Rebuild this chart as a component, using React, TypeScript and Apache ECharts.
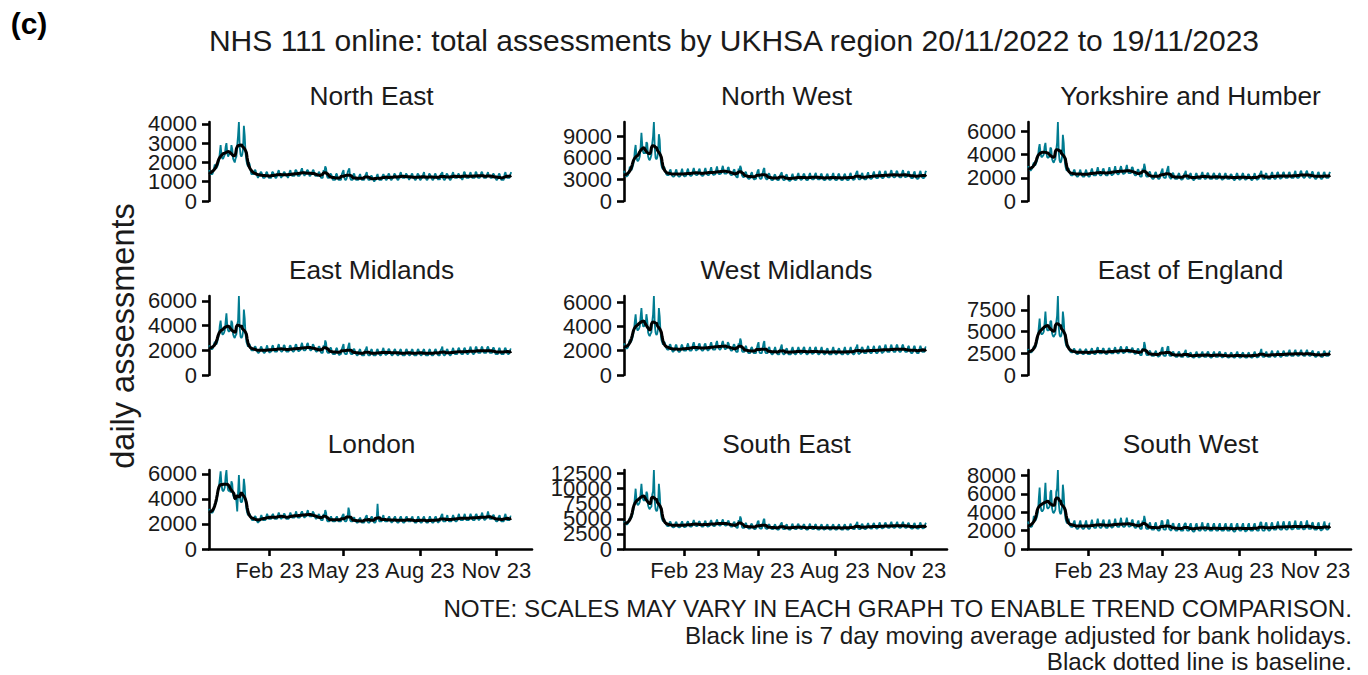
import React, { useEffect, useRef } from "react";
import * as echarts from "echarts";

// Daily NHS 111 online assessments, in hundreds, one value per day from 20/11/2022 (Sunday) to 19/11/2023.
const NORTH_EAST = [
16,15,14,14,14,15,17, 19,17,17,18,19,21,25, 29,24,22,22,23,24,28, 30,25,23,24,25,24,29,
27,22,21,20,22,23,29, 34,41,28,24,23,24,27, 39,34,25,21,19,18,20, 19,16,14,14,14,14,16,
16,14,13,12,13,13,15, 15,14,12,12,12,13,15, 15,13,12,12,12,12,15, 15,14,13,12,12,13,15,
16,14,13,12,13,13,15, 15,14,13,13,12,13,15, 16,14,13,13,13,13,16, 16,15,13,13,13,14,16,
17,15,14,13,14,14,16, 16,15,13,13,14,14,16, 16,14,13,13,13,13,15, 15,13,12,12,12,16,15,
18,17,13,12,12,12,14, 14,13,11,11,11,11,14, 14,12,11,11,11,11,14, 15,16,12,11,11,12,15,
16,17,12,11,11,11,14, 14,12,11,11,11,11,13, 14,12,11,11,11,11,13, 14,15,12,11,11,11,13,
13,12,11,10,11,11,13, 14,12,11,11,11,11,13, 14,13,12,11,11,12,14, 14,12,11,11,12,12,14,
14,13,12,11,11,12,14, 15,13,12,12,12,12,14, 14,13,12,11,12,12,14, 14,12,12,11,11,12,14,
14,13,11,11,12,12,14, 15,12,12,11,11,12,14, 14,13,12,11,11,12,14, 14,12,12,11,12,11,14,
14,15,12,11,11,12,14, 14,13,12,11,11,12,14, 15,13,12,12,12,12,14, 14,13,12,12,11,12,15,
15,13,12,12,12,12,14, 15,13,12,12,12,12,15, 15,13,12,12,12,13,15, 15,13,12,12,12,12,14,
15,13,13,12,12,12,14, 14,13,12,11,11,12,14, 14,12,11,11,11,11,14, 15,13,12,12,12,12,14,
15];

const NORTH_WEST = [
42,38,35,34,35,36,41, 48,44,43,46,50,56,70, 78,62,56,56,58,62,75, 95,78,68,66,68,66,82,
80,62,58,57,60,64,80, 90,110,75,60,58,60,68, 93,85,60,50,46,44,48, 46,40,37,36,36,36,42,
44,39,35,34,34,35,41, 44,39,35,34,34,35,41, 45,39,35,34,35,35,42, 45,40,36,35,35,36,42,
46,41,37,36,36,37,43, 45,40,36,35,35,36,42, 46,41,37,36,36,37,43, 47,41,37,36,37,37,44,
48,42,38,37,38,38,45, 49,43,38,38,38,39,46, 47,41,37,36,36,37,43, 44,38,34,33,33,45,42,
49,46,36,34,33,34,40, 40,35,32,31,31,32,38, 40,35,31,30,31,31,38, 42,44,33,31,31,32,39,
44,46,33,31,30,31,38, 38,34,30,29,29,30,36, 37,33,30,29,29,30,36, 38,40,31,29,29,30,36,
37,33,29,28,28,29,35, 38,33,30,29,29,30,36, 39,34,31,29,30,31,37, 38,34,30,29,29,30,36,
39,34,31,30,30,31,37, 39,34,31,30,30,30,37, 38,33,30,29,29,30,36, 38,34,30,29,30,30,36,
39,34,30,29,29,30,37, 38,33,30,29,29,30,36, 38,34,30,29,29,30,37, 39,34,31,29,30,30,37,
40,42,32,30,30,31,37, 39,34,31,30,30,31,37, 40,35,32,31,31,32,38, 41,36,33,32,32,32,39,
42,37,33,32,32,33,40, 42,37,34,33,33,33,40, 43,38,34,33,33,34,41, 42,37,34,33,33,33,40,
43,38,34,33,34,34,41, 41,36,33,32,32,32,39, 41,36,32,31,31,32,39, 42,37,33,32,32,33,40,
42];

const YORKSHIRE_HUMBER = [
30,28,27,26,27,28,31, 33,31,31,33,35,38,45, 49,42,38,38,39,40,47, 50,42,38,37,38,38,46,
45,36,34,33,35,36,44, 50,68,42,35,33,34,38, 57,50,36,30,27,26,28, 28,25,23,22,22,22,26,
27,24,22,21,21,22,25, 27,24,22,21,21,21,25, 27,24,22,21,21,22,26, 28,25,22,22,22,22,26,
29,26,23,22,22,23,27, 28,25,23,22,22,22,26, 29,26,23,22,23,23,27, 30,26,24,23,23,24,28,
30,27,24,23,24,24,28, 31,27,24,24,24,24,29, 29,26,23,22,22,23,27, 27,24,21,21,21,28,26,
32,29,22,21,21,21,25, 25,22,20,19,19,20,24, 25,22,20,19,19,20,24, 26,28,21,20,20,20,25,
28,30,21,20,19,20,24, 24,21,19,19,19,19,23, 24,21,19,18,19,19,23, 24,26,20,19,19,19,23,
24,21,19,18,18,19,23, 24,21,19,19,19,19,23, 25,22,20,19,19,20,24, 24,21,19,19,19,19,23,
24,22,19,19,19,20,23, 24,21,19,18,19,19,23, 24,21,19,19,19,19,23, 23,21,19,18,18,19,23,
24,21,19,18,19,19,23, 24,21,19,18,19,19,23, 23,21,19,18,18,19,22, 24,21,19,18,19,19,23,
24,26,20,19,19,19,23, 24,21,19,19,19,19,23, 25,22,20,19,19,20,24, 25,22,20,19,20,20,24,
25,22,20,20,20,20,24, 25,22,20,20,20,20,24, 26,22,20,20,20,21,25, 26,23,21,20,20,21,25,
26,23,21,20,20,21,25, 25,22,20,19,19,20,24, 25,22,20,19,19,20,24, 25,22,20,20,20,20,24,
25];

const EAST_MIDLANDS = [
24,22,21,21,21,22,25, 27,25,25,27,30,33,40, 44,37,33,33,34,36,43, 50,40,36,35,36,36,44,
42,33,31,30,32,33,41, 44,64,38,31,30,31,35, 53,46,33,27,25,23,25, 25,22,20,20,20,20,23,
23,21,19,18,18,19,22, 23,21,19,18,18,19,22, 24,21,19,18,19,19,23, 24,21,19,19,19,19,23,
25,22,20,19,19,20,24, 24,21,19,19,19,19,23, 24,22,20,19,19,20,24, 25,22,20,19,20,20,24,
26,23,20,20,20,21,25, 26,23,21,20,20,21,25, 24,22,20,19,19,20,23, 23,21,18,18,18,24,22,
28,26,19,18,18,18,22, 22,19,17,17,17,17,21, 22,19,17,16,17,17,21, 23,25,18,17,17,17,21,
24,26,18,17,17,17,21, 21,19,17,16,16,17,20, 21,18,16,16,16,16,20, 21,23,17,16,16,16,20,
21,18,16,16,16,16,20, 21,19,17,16,16,17,20, 22,19,17,16,17,17,21, 21,19,17,16,16,17,20,
21,19,17,16,16,17,20, 21,18,16,16,16,16,20, 21,19,17,16,16,17,20, 21,18,16,16,16,16,20,
21,19,17,16,16,17,20, 21,18,16,16,16,16,20, 21,18,16,16,16,17,20, 21,19,17,16,16,16,20,
21,23,17,16,16,17,20, 21,19,17,16,16,17,20, 22,19,17,17,17,17,21, 22,20,18,17,17,17,21,
22,20,18,17,17,18,21, 23,20,18,17,17,18,22, 23,20,18,18,18,18,22, 23,20,18,18,18,18,22,
23,21,18,18,18,18,22, 22,20,17,17,17,17,21, 22,19,17,17,17,17,21, 22,20,18,17,17,18,21,
21];

const WEST_MIDLANDS = [
26,24,22,22,22,23,27, 29,27,28,30,33,37,44, 50,41,37,37,38,40,48, 55,45,40,40,41,41,50,
45,35,33,32,34,35,44, 50,65,42,35,33,34,38, 55,48,35,29,27,25,27, 27,24,22,21,21,21,25,
25,22,20,19,20,20,24, 25,22,20,19,19,20,24, 25,22,20,20,20,20,24, 26,23,20,20,20,21,25,
27,24,21,20,21,21,25, 26,23,21,20,20,21,25, 26,23,21,20,21,21,25, 27,24,21,21,21,21,26,
28,24,22,21,21,22,26, 28,25,22,21,22,22,27, 26,23,21,20,20,21,25, 25,22,19,19,19,26,24,
30,28,20,19,19,19,23, 24,21,19,18,18,18,22, 23,21,18,18,18,18,22, 25,27,19,18,18,18,22,
26,28,19,18,18,18,22, 23,20,18,17,17,18,21, 23,20,18,17,17,17,21, 23,25,18,17,17,18,21,
22,20,17,17,17,17,21, 23,20,18,17,17,18,21, 23,21,18,17,18,18,22, 23,20,18,17,17,18,21,
23,20,18,17,18,18,22, 23,20,18,17,17,18,21, 23,20,18,17,17,18,21, 22,20,17,17,17,17,21,
23,20,18,17,17,18,21, 22,20,18,17,17,17,21, 23,20,18,17,17,18,21, 23,20,18,17,17,18,22,
23,25,18,17,18,18,22, 23,21,18,18,18,18,22, 24,21,19,18,18,19,22, 24,21,19,18,18,19,23,
24,22,19,18,19,19,23, 25,22,19,19,19,19,23, 25,22,20,19,19,19,24, 25,22,20,19,19,20,24,
25,22,20,19,19,19,23, 24,21,19,18,18,19,23, 24,21,19,18,18,18,22, 24,22,19,19,19,19,23,
23];

const EAST_OF_ENGLAND = [
30,27,26,26,26,27,30, 33,31,32,35,39,44,55, 65,52,47,47,48,50,60, 73,58,52,51,52,52,62,
62,48,45,44,46,47,60, 68,91,55,46,44,45,50, 73,64,46,38,34,32,34, 33,29,27,26,26,26,30,
30,27,25,24,24,25,29, 30,27,25,24,24,25,29, 30,27,24,24,24,24,29, 31,27,25,24,24,25,30,
32,28,25,25,25,25,30, 31,27,25,24,24,25,30, 31,28,25,25,25,25,30, 32,28,26,25,25,26,31,
33,29,26,25,26,26,31, 33,29,26,26,26,26,31, 31,28,25,24,25,25,30, 30,26,23,23,23,31,28,
38,34,25,23,23,23,27, 28,25,22,22,22,22,26, 28,25,22,21,22,22,26, 30,32,23,22,22,22,27,
32,33,23,22,22,22,26, 27,24,22,21,21,21,26, 27,24,21,21,21,21,25, 27,29,22,21,21,21,25,
26,23,21,20,20,21,25, 27,24,21,20,21,21,25, 27,24,21,21,21,21,26, 27,24,21,20,20,21,25,
27,24,21,21,21,21,26, 27,24,21,20,21,21,25, 26,23,21,20,20,21,25, 26,23,21,20,20,21,25,
27,24,21,20,20,21,25, 26,23,21,20,20,20,25, 26,23,21,20,20,21,25, 27,24,21,20,21,21,25,
27,30,22,21,21,21,25, 27,24,21,21,21,21,26, 28,24,22,21,21,22,26, 28,25,22,21,21,22,26,
28,25,22,22,22,22,27, 29,25,22,22,22,22,27, 29,26,23,22,22,23,27, 29,25,23,22,22,22,27,
29,26,23,22,22,23,27, 28,24,22,21,21,22,26, 27,24,22,21,21,21,26, 28,25,22,22,22,22,27,
28];

const LONDON = [
32,30,29,29,29,30,32, 36,36,38,42,46,50,56, 62,52,47,46,47,49,58, 63,52,47,46,47,45,54,
52,43,41,40,41,38,30, 45,59,44,38,37,38,44, 56,50,38,32,29,27,28, 28,26,24,23,23,23,26,
26,24,22,21,22,22,25, 27,25,23,23,23,23,26, 28,26,24,24,24,24,27, 28,26,24,24,24,24,27,
29,27,25,24,25,25,28, 28,26,24,24,24,24,27, 29,27,25,25,25,25,28, 30,27,25,25,25,26,29,
30,28,26,25,26,26,29, 31,28,26,26,26,26,30, 29,27,25,24,25,25,28, 27,25,23,23,23,28,26,
31,29,23,22,22,22,25, 26,24,22,22,22,22,25, 26,24,22,22,22,22,25, 27,28,23,22,22,23,26,
33,30,23,22,22,22,25, 25,23,22,21,21,22,24, 25,23,21,21,21,21,24, 26,27,22,21,21,22,25,
26,24,22,21,21,22,25, 36,25,22,22,22,22,25, 27,24,22,22,22,22,25, 26,24,22,21,22,22,25,
26,24,22,21,21,22,25, 26,24,22,21,21,22,25, 26,24,22,22,22,22,25, 26,23,22,21,21,21,24,
26,24,22,21,21,22,25, 26,23,22,21,21,21,24, 26,24,22,21,21,22,25, 26,24,22,21,22,22,25,
27,28,22,22,22,22,25, 27,24,22,22,22,22,25, 27,25,23,22,22,23,26, 28,25,23,23,23,23,26,
28,25,23,23,23,23,26, 28,26,24,23,23,23,27, 28,26,24,23,24,24,27, 29,26,24,23,24,24,27,
30,27,24,24,24,24,27, 27,25,23,22,22,23,26, 27,24,22,22,22,22,26, 28,25,23,23,23,23,26,
26];

const SOUTH_EAST = [
46,43,41,41,41,43,47, 52,50,52,56,62,70,84, 100,82,74,73,75,78,92, 108,90,82,80,82,80,95,
92,72,68,66,69,70,90, 96,131,80,66,63,64,72, 108,92,66,54,49,46,50, 48,43,40,38,38,38,45,
45,41,37,36,36,37,43, 45,41,37,36,36,37,43, 46,41,37,36,37,37,44, 46,42,38,37,37,38,44,
48,43,39,38,38,39,45, 46,42,38,37,37,38,44, 47,42,38,37,38,38,45, 48,43,39,38,38,39,45,
49,44,40,39,39,40,46, 49,44,40,39,39,40,46, 47,42,38,37,37,38,44, 45,40,36,35,35,48,43,
54,50,37,35,35,35,42, 43,38,35,34,34,34,41, 42,38,34,33,33,34,40, 45,47,35,34,34,34,41,
48,50,35,34,33,34,40, 41,37,34,33,33,33,39, 41,37,33,32,32,33,39, 42,44,34,33,33,33,39,
41,36,33,32,32,33,39, 42,37,34,33,33,33,40, 42,38,34,33,33,34,40, 41,37,33,32,32,33,39,
42,37,34,33,33,33,40, 41,37,33,32,32,33,39, 41,37,33,32,33,33,39, 41,36,33,32,32,33,39,
41,37,33,32,32,33,39, 41,36,33,32,32,32,39, 41,37,33,32,32,33,39, 42,37,34,33,33,33,40,
42,45,34,33,33,33,40, 42,38,34,33,33,34,40, 43,38,35,34,34,34,41, 43,39,35,34,34,35,41,
44,39,35,34,35,35,42, 44,40,36,35,35,35,42, 45,40,36,35,35,36,42, 45,40,36,35,35,36,42,
45,40,36,35,35,36,43, 43,39,35,34,34,34,41, 43,38,35,34,34,34,41, 44,39,35,34,35,35,42,
43];

const SOUTH_WEST = [
30,26,24,24,24,25,29, 36,31,31,33,36,40,55, 67,48,42,41,42,44,58, 72,52,45,44,45,46,62,
64,44,40,39,41,43,62, 66,86,50,41,38,39,46, 70,60,42,34,30,28,30, 33,27,25,24,24,24,29,
31,26,23,22,22,23,28, 31,26,23,22,22,23,28, 31,26,23,22,22,23,28, 32,27,24,23,23,23,29,
33,28,24,23,23,24,30, 32,27,24,23,23,23,29, 32,27,24,23,24,24,29, 33,28,25,24,24,24,30,
34,28,25,24,24,25,30, 34,29,25,24,25,25,31, 32,27,24,23,23,24,29, 31,26,22,22,22,31,28,
36,32,23,22,22,22,27, 29,24,21,21,21,21,27, 29,24,21,20,20,21,26, 31,30,22,21,21,21,27,
32,31,22,21,20,21,27, 28,24,21,20,20,20,26, 28,23,20,20,20,20,26, 28,28,21,20,20,20,26,
28,23,20,19,19,20,26, 28,24,21,20,20,20,26, 29,24,21,20,20,21,27, 28,23,20,20,20,20,26,
28,24,21,20,20,20,26, 28,23,20,20,20,20,26, 28,24,20,20,20,20,26, 28,23,20,19,19,20,26,
28,24,21,20,20,20,26, 28,23,20,19,20,20,26, 28,23,20,20,20,20,26, 28,24,21,20,20,20,26,
29,29,21,20,20,20,27, 29,24,21,20,20,21,27, 29,24,21,21,21,21,27, 30,25,22,21,21,21,28,
30,25,22,21,21,22,28, 30,25,22,21,22,22,28, 31,25,22,22,22,22,28, 30,25,22,21,22,22,28,
31,26,22,22,22,22,28, 29,24,21,21,21,21,27, 29,24,21,20,21,21,27, 30,25,22,21,21,22,28,
28];

const REGION_NAMES = [
  "North East", "North West", "Yorkshire and Humber",
  "East Midlands", "West Midlands", "East of England",
  "London", "South East", "South West",
];
const REGION_SERIES = [
  NORTH_EAST, NORTH_WEST, YORKSHIRE_HUMBER,
  EAST_MIDLANDS, WEST_MIDLANDS, EAST_OF_ENGLAND,
  LONDON, SOUTH_EAST, SOUTH_WEST,
];
const Y_TICKS = [
  [0, 1000, 2000, 3000, 4000],
  [0, 3000, 6000, 9000],
  [0, 2000, 4000, 6000],
  [0, 2000, 4000, 6000],
  [0, 2000, 4000, 6000],
  [0, 2500, 5000, 7500],
  [0, 2000, 4000, 6000],
  [0, 2500, 5000, 7500, 10000, 12500],
  [0, 2000, 4000, 6000, 8000],
];
const X_TICK_DATES = [[2023, 1, 1], [2023, 4, 1], [2023, 7, 1], [2023, 10, 1]];
const X_TICK_LABELS = ["Feb 23", "May 23", "Aug 23", "Nov 23"];
const START_DATE = [2022, 10, 20];
const AXIS_END_DATE = [2023, 11, 14];

const TITLE = "NHS 111 online: total assessments by UKHSA region 20/11/2022 to 19/11/2023";
const Y_LABEL = "daily assessments";
const NOTES = [
  "NOTE: SCALES MAY VARY IN EACH GRAPH TO ENABLE TREND COMPARISON.",
  "Black line is 7 day moving average adjusted for bank holidays.",
  "Black dotted line is baseline.",
];

const FONT = "'Liberation Sans', Arial, Helvetica, sans-serif";
const TEAL = "#007C91";
const INK = "#1a1a1a";

function buildOption() {
  const COL_LEFT = [209, 624, 1028];
  const ROW_TOP = [122, 296, 470];
  const PANEL_W = 323;
  const PANEL_H = 79;
  const xMin = new Date(START_DATE[0], START_DATE[1], START_DATE[2]).getTime();
  const xMax = new Date(AXIS_END_DATE[0], AXIS_END_DATE[1], AXIS_END_DATE[2]).getTime();
  const xTicks = X_TICK_DATES.map((d) => new Date(d[0], d[1], d[2]).getTime());

  const grids: any[] = [];
  const xAxes: any[] = [];
  const yAxes: any[] = [];
  const series: any[] = [];
  const graphics: any[] = [];
  const axisLineStyle = { color: "#000", width: 2.6 };

  REGION_SERIES.forEach((arr, i) => {
    const row = Math.floor(i / 3);
    const col = i % 3;
    grids.push({
      left: COL_LEFT[col], top: ROW_TOP[row], width: PANEL_W, height: PANEL_H,
      containLabel: false, show: false,
    });
    const values = arr.map((v) => v * 100);
    const yMax = Math.max(...values);
    const daily = values.map((v, d) => [
      new Date(START_DATE[0], START_DATE[1], START_DATE[2] + d).getTime(), v,
    ]);
    const ma = values.map((_, d) => {
      let s = 0, n = 0;
      for (let k = d - 3; k <= d + 3; k++) {
        if (k >= 0 && k < values.length) { s += values[k]; n++; }
      }
      return [daily[d][0], s / n];
    });
    const bottom = row === 2;
    xAxes.push({
      type: "value", gridIndex: i, min: xMin, max: xMax,
      axisLine: { show: bottom, onZero: false, lineStyle: axisLineStyle },
      axisTick: { show: bottom, length: 7, lineStyle: axisLineStyle, customValues: xTicks },
      axisLabel: {
        show: bottom, customValues: xTicks, fontSize: 22, color: INK, margin: 10,
        fontFamily: FONT, hideOverlap: false,
        formatter: (v: number) => {
          const idx = xTicks.indexOf(v);
          return idx >= 0 ? X_TICK_LABELS[idx] : "";
        },
      },
      splitLine: { show: false },
    });
    // Labels are split over two coincident y axes (alternate ticks) so that
    // ECharts does not drop the tightly packed labels that the reference shows.
    const ticks = Y_TICKS[i];
    const evenTicks = ticks.filter((_, k) => k % 2 === 0);
    const oddTicks = ticks.filter((_, k) => k % 2 === 1);
    [evenTicks, oddTicks].forEach((tv, part) => {
      yAxes.push({
        type: "value", gridIndex: i, min: 0, max: yMax, position: "left",
        axisLine: { show: part === 0, onZero: false, lineStyle: axisLineStyle },
        axisTick: { show: true, length: 7, lineStyle: axisLineStyle, customValues: tv },
        axisLabel: {
          customValues: tv, fontSize: 22, color: INK, margin: 12, fontFamily: FONT,
          hideOverlap: false, formatter: (v: number) => String(v),
        },
        splitLine: { show: false },
      });
    });
    series.push({
      type: "line", xAxisIndex: i, yAxisIndex: 2 * i, data: daily, showSymbol: false,
      symbol: "none", silent: true, z: 2, lineStyle: { color: TEAL, width: 1.8 },
    });
    series.push({
      type: "line", xAxisIndex: i, yAxisIndex: 2 * i, data: ma, showSymbol: false,
      symbol: "none", silent: true, z: 3, lineStyle: { color: "#000", width: 3 },
    });
    graphics.push({
      type: "text", x: COL_LEFT[col] + PANEL_W / 2 + 1, y: ROW_TOP[row] - 26,
      style: {
        text: REGION_NAMES[i], fontSize: 26.3, fontFamily: FONT, fill: INK,
        textAlign: "center", textVerticalAlign: "middle",
      },
    });
  });

  graphics.push({
    type: "text", x: 29, y: 23,
    style: {
      text: "(c)", fontSize: 30, fontWeight: "bold", fontFamily: FONT, fill: "#000",
      textAlign: "center", textVerticalAlign: "middle",
    },
  });
  graphics.push({
    type: "text", x: 734, y: 40,
    style: {
      text: TITLE, fontSize: 30, fontFamily: FONT, fill: INK,
      textAlign: "center", textVerticalAlign: "middle",
    },
  });
  graphics.push({
    type: "text", x: 123, y: 336, rotation: Math.PI / 2,
    style: {
      text: Y_LABEL, fontSize: 32.5, fontFamily: FONT, fill: INK,
      textAlign: "center", textVerticalAlign: "middle",
    },
  });
  const noteY = [608, 635, 661];
  NOTES.forEach((t, k) => {
    graphics.push({
      type: "text", x: 1352, y: noteY[k],
      style: {
        text: t, fontSize: 24.2, fontFamily: FONT, fill: INK,
        textAlign: "right", textVerticalAlign: "middle",
      },
    });
  });

  return {
    animation: false,
    backgroundColor: "#fff",
    textStyle: { fontFamily: FONT },
    grid: grids,
    xAxis: xAxes,
    yAxis: yAxes,
    series,
    graphic: graphics,
  };
}

export default function App() {
  const ref = useRef<HTMLDivElement>(null);
  useEffect(() => {
    if (!ref.current) return;
    const chart = echarts.init(ref.current, null, { renderer: "svg" });
    chart.setOption(buildOption());
    return () => chart.dispose();
  }, []);
  return (
    <div
      ref={ref}
      style={{ position: "fixed", left: 0, top: 0, width: 1368, height: 675, background: "#fff" }}
    />
  );
}
